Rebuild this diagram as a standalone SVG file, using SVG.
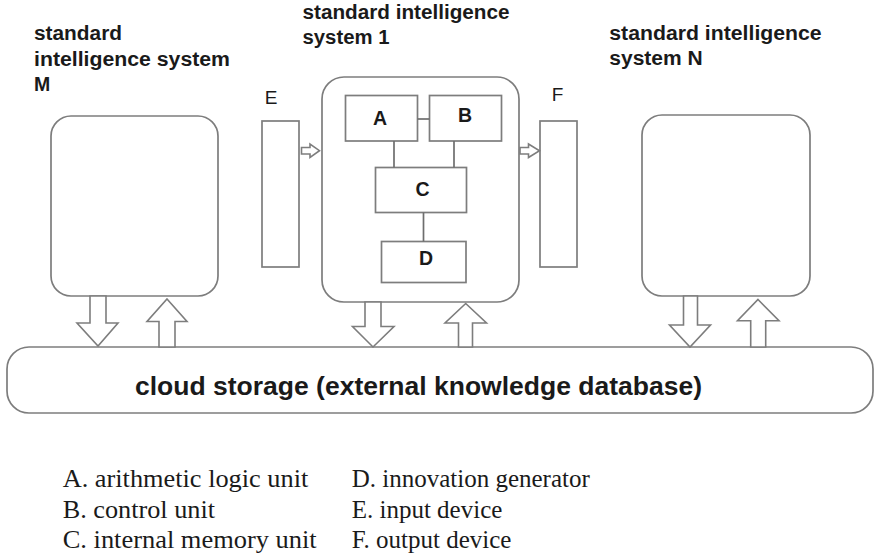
<svg xmlns="http://www.w3.org/2000/svg" width="876" height="560" viewBox="0 0 876 560">
  <style>
    .box { fill: #ffffff; stroke: #7d7d7d; stroke-width: 1.7; }
    .line { fill: none; stroke: #6e6e6e; stroke-width: 1.7; }
    .blk { fill: #ffffff; stroke: #7d7d7d; stroke-width: 1.6; stroke-linejoin: miter; }
    .title { font-family: "Liberation Sans", Arial, sans-serif; font-weight: bold; font-size: 19.5px; fill: #1a1a1a; }
    .letter { font-family: "Liberation Sans", Arial, sans-serif; font-weight: bold; font-size: 19.5px; fill: #1a1a1a; text-anchor: middle; }
    .io { font-family: "Liberation Sans", Arial, sans-serif; font-size: 19px; fill: #1a1a1a; text-anchor: middle; }
    .cloud { font-family: "Liberation Sans", Arial, sans-serif; font-weight: bold; font-size: 25px; fill: #1a1a1a; }
    .legend { font-family: "Liberation Serif", "Times New Roman", serif; font-size: 25px; fill: #1a1a1a; }
  </style>

  <!-- system M -->
  <g id="system-m">
    <rect class="box" x="51" y="116" width="167" height="180" rx="20"/>
    <text class="title" x="34" y="40" textLength="88" lengthAdjust="spacingAndGlyphs">standard</text>
    <text class="title" x="34" y="65.5" textLength="196" lengthAdjust="spacingAndGlyphs">intelligence system</text>
    <text class="title" x="34" y="91">M</text>
  </g>

  <!-- system 1 with its internal units -->
  <g id="system-1">
    <rect class="box" x="322" y="77" width="197" height="225" rx="22"/>
    <text class="title" x="302.5" y="19" textLength="207" lengthAdjust="spacingAndGlyphs">standard intelligence</text>
    <text class="title" x="302.5" y="44" textLength="87" lengthAdjust="spacingAndGlyphs">system 1</text>
  </g>
  <g id="unit-a">
    <rect class="box" x="345.5" y="95.5" width="72" height="45.5"/>
    <text class="letter" x="380" y="125">A</text>
  </g>
  <g id="unit-b">
    <rect class="box" x="429.5" y="95.5" width="72" height="45.5"/>
    <text class="letter" x="465" y="121.5">B</text>
  </g>
  <g id="unit-c">
    <rect class="box" x="375.5" y="167.5" width="91" height="45"/>
    <text class="letter" x="422.5" y="196">C</text>
  </g>
  <g id="unit-d">
    <rect class="box" x="381.5" y="241.5" width="84.5" height="41"/>
    <text class="letter" x="426" y="265">D</text>
  </g>

  <!-- input / output devices -->
  <g id="device-e">
    <rect class="box" x="262" y="121" width="37" height="146"/>
    <text class="io" x="271" y="104">E</text>
  </g>
  <g id="device-f">
    <rect class="box" x="540" y="121" width="37" height="146"/>
    <text class="io" x="557.5" y="100.5">F</text>
  </g>

  <!-- system N -->
  <g id="system-n">
    <rect class="box" x="642" y="115" width="168" height="181" rx="20"/>
    <text class="title" x="609.3" y="40" textLength="212.4" lengthAdjust="spacingAndGlyphs">standard intelligence</text>
    <text class="title" x="609.3" y="65" textLength="93.4" lengthAdjust="spacingAndGlyphs">system N</text>
  </g>

  <!-- shared cloud store -->
  <g id="cloud-storage">
    <rect class="box" x="7" y="347" width="866" height="66" rx="22"/>
    <text class="cloud" x="135" y="395" textLength="567" lengthAdjust="spacingAndGlyphs">cloud storage (external knowledge database)</text>
  </g>

  <!-- connectors: unit wiring and block arrows -->
  <g id="connectors">
    <line class="line" x1="417.5" y1="119" x2="429.5" y2="119"/>
    <line class="line" x1="394" y1="141" x2="394" y2="167.5"/>
    <line class="line" x1="454" y1="141" x2="454" y2="167.5"/>
    <line class="line" x1="423.5" y1="212.5" x2="423.5" y2="241.5"/>

    <!-- E into system 1 -->
    <polygon class="blk" points="301.5,147.5 310,147.5 310,144 319.5,150.7 310,157.5 310,154 301.5,154"/>
    <!-- system 1 out to F -->
    <polygon class="blk" points="520,147.5 528.5,147.5 528.5,144 539.5,150.7 528.5,157.5 528.5,154 520,154"/>

    <!-- system M <-> cloud -->
    <polygon class="blk" points="90,296 106,296 106,323 118,323 98,346 77,323 90,323"/>
    <polygon class="blk" points="167,299 187,321.5 175,321.5 175,347 159,347 159,321.5 147,321.5"/>

    <!-- system 1 <-> cloud -->
    <polygon class="blk" points="365,302 381,302 381,326.5 394,326.5 373,347 352.5,326.5 365,326.5"/>
    <polygon class="blk" points="465.7,303.5 486.5,323 472.5,323 472.5,347 458.5,347 458.5,323 445,323"/>

    <!-- system N <-> cloud -->
    <polygon class="blk" points="683.5,296 697.5,296 697.5,325 710.5,325 690,347 669.5,325 683.5,325"/>
    <polygon class="blk" points="758,299.5 779,320.7 765.7,320.7 765.7,347 750.7,347 750.7,320.7 737.5,320.7"/>
  </g>

  <!-- key -->
  <g id="legend">
    <text class="legend" x="62.7" y="487.3" textLength="245.6" lengthAdjust="spacingAndGlyphs">A. arithmetic logic unit</text>
    <text class="legend" x="62.7" y="518.3" textLength="152.3" lengthAdjust="spacingAndGlyphs">B. control unit</text>
    <text class="legend" x="62.7" y="548.3" textLength="254" lengthAdjust="spacingAndGlyphs">C. internal memory unit</text>
    <text class="legend" x="351.7" y="487.3">D. innovation generator</text>
    <text class="legend" x="351.7" y="518.3">E. input device</text>
    <text class="legend" x="351.7" y="548.3">F. output device</text>
  </g>
</svg>
